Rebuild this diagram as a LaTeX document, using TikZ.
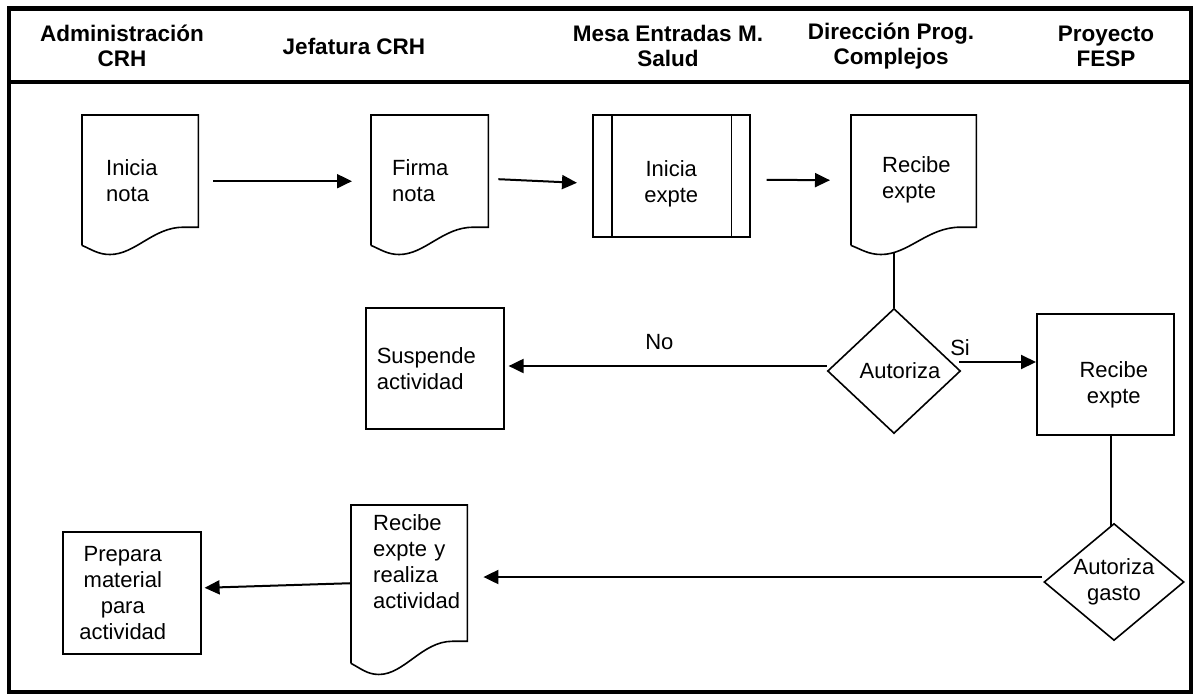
\documentclass[tikz,border=0pt]{standalone}
\usepackage{fontspec}
\setmainfont{Liberation Sans}
\usetikzlibrary{arrows.meta,shapes.geometric,calc}
\tikzset{
  shp/.style={line width=1.6pt},
  arr/.style={line width=2pt,-{Triangle[length=15pt,width=14pt]}},
  ln/.style={line width=2pt},
  frame/.style={line width=4.5pt},
  tx/.style={font=\fontsize{22}{26}\selectfont, inner sep=0pt},
  hd/.style={font=\fontsize{22.5}{25}\selectfont\bfseries, align=center, inner sep=0pt},
}
\newcommand\ind[1]{\hspace*{#1pt}}
\newcommand\docline[3]{%
  \draw[shp] (#1.south west) -- (#1.north west) -- (#1.north east)
    -- ([yshift={0.14*#3*1pt}]#1.south east) -- ++({-0.13*#2},0)
    .. controls +({-0.26*#2},0) and +({0.22*#2},0) .. ([xshift={0.24*#2*1pt},yshift={-0.07*#3*1pt}]#1.south west)
    .. controls +({-0.1*#2},0) and +({0.08*#2},{0.03*#3}) .. (#1.south west);}
\begin{document}
\begin{tikzpicture}[x=1pt,y=-1pt]
\useasboundingbox (0,0) rectangle (1193,694);
% frame
\draw[frame] (9,8.5) rectangle (1191,692);
\draw[frame] (9,82) -- (1191,82);
% headers
\node[hd] (h1) at (122,46) {Administración\\CRH};
\node[hd] (h2) at (354,46) {Jefatura CRH};
\node[hd] (h3) at (668,46) {Mesa Entradas M.\\Salud};
\node[hd] (h4) at (891,46) {Dirección Prog.\\Complejos};
\node[hd] (h5) at (1106,46) {Proyecto\\FESP};
% documents
\node[tx, minimum width=116pt, minimum height=130pt, text width=116pt, align=left, anchor=north west] (doc1) at (82,115) {\ind{24}Inicia\\\ind{24}nota};
\docline{doc1}{116}{130}
\node[tx, minimum width=117pt, minimum height=130pt, text width=117pt, align=left, anchor=north west] (doc2) at (371,115) {\ind{21}Firma\\\ind{21}nota};
\docline{doc2}{117}{130}
\node[tx, minimum width=125pt, minimum height=130pt, text width=125pt, align=left, anchor=north west] (doc4) at (851,115) {\ind{31}Recibe\\\ind{31}expte};
\docline{doc4}{125}{130}
\node[tx, minimum width=116pt, minimum height=158pt, text width=116pt, align=left, anchor=north west] (doc7) at (351,505) {\ind{22}Recibe\\\ind{22}expte y\\\ind{22}realiza\\\ind{22}actividad\rule[-46pt]{0pt}{46pt}};
\docline{doc7}{116}{158}
% predefined process
\node[tx, draw, shp, minimum width=157pt, minimum height=122pt, align=center, anchor=north west] (proc) at (592,114) {\rule{0pt}{32pt}Inicia\\expte};
\draw[shp] ([xshift=20pt]proc.north west) -- ([xshift=20pt]proc.south west);
\draw[shp] ([xshift=-19pt]proc.north east) -- ([xshift=-19pt]proc.south east);
% boxes
\node[tx, draw, shp, minimum width=138pt, minimum height=121pt, text width=138pt, align=left, anchor=north west] (susp) at (365,307) {\ind{11}Suspende\\\ind{11}actividad};
\node[tx, draw, shp, minimum width=137pt, minimum height=121pt, align=center, anchor=north west] (rb) at (1036,313) {\rule{17pt}{0pt}\rule{0pt}{36pt}Recibe\\\rule{17pt}{0pt}expte};
\node[tx, draw, shp, minimum width=138pt, minimum height=122pt, align=center, anchor=north west] (prep) at (62,531) {Prepara\rule{18pt}{0pt}\\material\rule{18pt}{0pt}\\para\rule{18pt}{0pt}\\actividad\rule{18pt}{0pt}};
% decisions
\node[tx, draw, shp, diamond, minimum width=133pt, minimum height=125pt, aspect=1.06] (d1) at (894,371) {\rule{12pt}{0pt}Autoriza};
\node[tx, draw, shp, diamond, minimum width=140pt, minimum height=117pt, aspect=1.2, align=center] (d2) at (1114,582) {Autoriza\\gasto};
% connectors
\draw[arr] ($(doc1.east)+(15,1)$) -- ($(doc2.west)+(-19,1)$);
\draw[arr] ($(doc2.east)+(10,-1)$) -- ($(proc.west)+(-15,7)$);
\draw[arr] ($(proc.east)+(16,4)$) -- ($(doc4.west)+(-21,0)$);
\coordinate (w4) at ($(doc4.south)+(0,8)$);
\draw[ln] (d1.north) -- (d1.north |- w4);
\coordinate (n0) at ($(d1.west)+(0,-5)$);
\draw[arr] (n0) -- ($(n0 -| susp.east)+(4,0)$) node[tx, pos=0.526, above=15pt] {No};
\coordinate (s0) at ($(d1.east)+(-2,-9)$);
\draw[arr] (s0) -- (s0 -| rb.west) node[tx, pos=0, anchor=base west, xshift=-10pt, yshift=7pt] {Si};
\coordinate (r0) at ($(rb.south)+(6,0)$);
\draw[ln] (r0) -- ($(r0 |- d2.north)+(0,3)$);
\coordinate (g0) at ($(d2.west)+(-1,-5)$);
\draw[arr] (g0) -- ($(g0 -| doc7.east)+(16,0)$);
\draw[arr] ($(doc7.west)+(0,-1)$) -- ($(prep.east)+(3,-5)$);
\end{tikzpicture}
\end{document}
